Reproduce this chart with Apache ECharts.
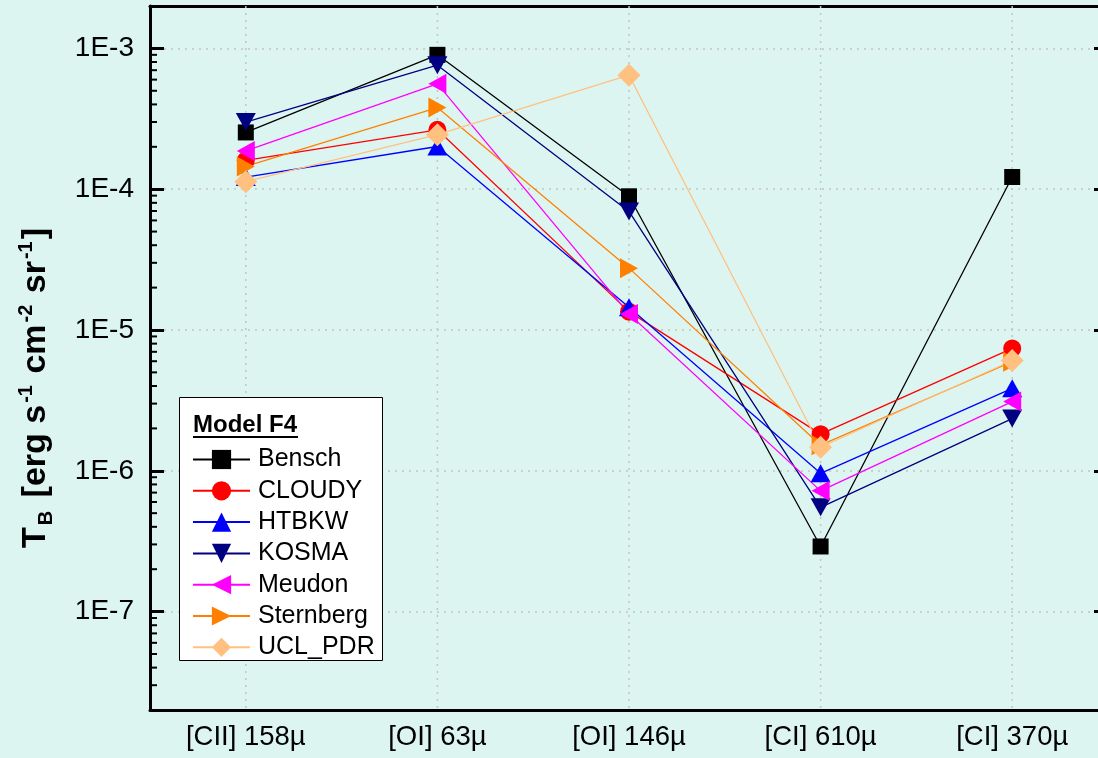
<!DOCTYPE html>
<html><head><meta charset="utf-8">
<script src="https://cdn.jsdelivr.net/npm/echarts@6/dist/echarts.min.js"></script>
<style>html,body{margin:0;padding:0;background:#ddf5f1;overflow:hidden}#c{width:1112px;height:758px}</style>
</head><body><div id="c"></div>
<script>
const categories = ['[CII] 158µ', '[OI] 63µ', '[OI] 146µ', '[CI] 610µ', '[CI] 370µ'];
const bensch    = [2.53e-4, 9.0e-4, 8.9e-5, 2.9e-7, 1.22e-4];
const cloudy    = [1.6e-4, 2.64e-4, 1.35e-5, 1.82e-6, 7.4e-6];
const htbkw     = [1.22e-4, 2.01e-4, 1.45e-5, 9.6e-7, 3.85e-6];
const kosma     = [3.0e-4, 7.6e-4, 6.95e-5, 5.5e-7, 2.35e-6];
const meudon    = [1.87e-4, 5.6e-4, 1.3e-5, 7.2e-7, 3.1e-6];
const sternberg = [1.45e-4, 3.8e-4, 2.75e-5, 1.52e-6, 5.95e-6];
const uclpdr    = [1.13e-4, 2.44e-4, 6.45e-4, 1.47e-6, 6.07e-6];
const yMin = 2e-8, yMax = 2e-3;

const FONT = '"Liberation Sans", Arial, sans-serif';
const seriesDefs = [
  {name: 'Bensch', data: bensch, color: '#000000', symbol: 'rect', size: 16, rotate: 0},
  {name: 'CLOUDY', data: cloudy, color: '#ff0000', symbol: 'circle', size: 18, rotate: 0},
  {name: 'HTBKW', data: htbkw, color: '#0000ff', symbol: 'triangle', size: [20, 18], rotate: 0},
  {name: 'KOSMA', data: kosma, color: '#000080', symbol: 'triangle', size: [20, 18], rotate: 180},
  {name: 'Meudon', data: meudon, color: '#ff00ff', symbol: 'triangle', size: [20, 18], rotate: 90},
  {name: 'Sternberg', data: sternberg, color: '#ff8000', symbol: 'triangle', size: [20, 18], rotate: -90},
  {name: 'UCL_PDR', data: uclpdr, color: '#ffc080', symbol: 'diamond', size: 23, rotate: 0}
];

// log minor tick positions (axis structure)
const minorVals = [];
for (let e = -8; e <= -3; e++) {
  for (let m = 2; m <= 9; m++) {
    const v = m * Math.pow(10, e);
    if (v > yMin * 1.0001 && v < yMax * 0.9999) minorVals.push(v);
  }
}

function logLabel(v) {
  const l = Math.log10(v);
  const e = Math.round(l);
  if (Math.abs(l - e) > 1e-6) return '';
  return '1E' + e;
}

const chart = echarts.init(document.getElementById('c'), null, {renderer: 'canvas'});

const series = [
  {
    type: 'custom', silent: true, z: 1, xAxisIndex: 0, yAxisIndex: 0,
    data: categories.map((c, i) => [i, 1e-5]),
    renderItem(params, api) {
      const cs = params.coordSys;
      const x = api.coord([api.value(0), 1e-5])[0];
      return {type: 'line', shape: {x1: x, y1: cs.y, x2: x, y2: cs.y + cs.height},
        style: {stroke: '#c4c4c4', lineWidth: 1.5, lineDash: [2, 5]}};
    }
  },
  {
    type: 'custom', silent: true, z: 3, xAxisIndex: 0, yAxisIndex: 0,
    data: minorVals.map(v => [0, v]),
    renderItem(params, api) {
      const cs = params.coordSys;
      const y = api.coord([0, api.value(1)])[1];
      return {type: 'line', shape: {x1: cs.x, y1: y, x2: cs.x + 7, y2: y},
        style: {stroke: '#000', lineWidth: 2}};
    }
  }
];
seriesDefs.forEach(d => {
  series.push({
    name: d.name, type: 'line', data: d.data,
    symbol: d.symbol, symbolSize: d.size, symbolRotate: d.rotate,
    showAllSymbol: true,
    lineStyle: {color: d.color, width: 1.3},
    itemStyle: {color: d.color, borderWidth: 0},
    emphasis: {disabled: true}
  });
});

chart.setOption({
  animation: false,
  backgroundColor: '#ddf5f1',
  grid: {left: 150, top: 6, width: 958, height: 704, containLabel: false},
  legend: {
    orient: 'vertical', left: 187, top: 442, z: 12,
    itemWidth: 57, itemHeight: 24, itemGap: 6.3,
    data: seriesDefs.map(d => d.name),
    textStyle: {fontSize: 25, color: '#000', fontFamily: FONT, padding: [0, 0, 0, 3]},
    selectedMode: false
  },
  xAxis: [
    {
      type: 'category', data: categories, boundaryGap: true, position: 'bottom',
      axisLine: {onZero: false, lineStyle: {color: '#000', width: 3}},
      axisTick: {alignWithLabel: true, inside: true, length: 14, lineStyle: {color: '#000', width: 2.5}},
      axisLabel: {fontSize: 27.5, color: '#000', margin: 13, interval: 0, fontFamily: FONT},
      splitLine: {show: false}
    },
    {
      type: 'category', data: categories, boundaryGap: true, position: 'top',
      axisLine: {onZero: false, lineStyle: {color: '#000', width: 3}},
      axisTick: {alignWithLabel: true, inside: true, length: 14, lineStyle: {color: '#000', width: 2.5}},
      axisLabel: {show: false},
      splitLine: {show: false}
    }
  ],
  yAxis: [
    {
      type: 'log', logBase: 10, min: yMin, max: yMax, position: 'left',
      axisLine: {show: true, onZero: false, lineStyle: {color: '#000', width: 3}},
      axisTick: {show: true, inside: true, length: 14, lineStyle: {color: '#000', width: 3}},
      axisLabel: {formatter: logLabel, fontSize: 28, color: '#000', margin: 16, fontFamily: FONT},
      splitLine: {show: true, lineStyle: {color: '#c4c4c4', width: 1.5, type: [2, 5]}}
    },
    {
      type: 'log', logBase: 10, min: yMin, max: yMax, position: 'right',
      axisLine: {show: true, onZero: false, lineStyle: {color: '#000', width: 3}},
      axisTick: {show: true, inside: true, length: 14, lineStyle: {color: '#000', width: 3}},
      axisLabel: {show: false},
      splitLine: {show: false}
    }
  ],
  graphic: [
    {type: 'rect', z: 10, shape: {x: 179.5, y: 397.5, width: 203, height: 263},
      style: {fill: '#ffffff', stroke: '#000', lineWidth: 1}},
    {type: 'text', z: 11, x: 193, y: 425,
      style: {text: 'Model F4', font: 'bold 24px ' + FONT, fill: '#000', align: 'left', verticalAlign: 'middle'}},
    {type: 'line', z: 11, shape: {x1: 193, y1: 437, x2: 298, y2: 437}, style: {stroke: '#000', lineWidth: 2}},
    {type: 'text', z: 5, x: 36, y: 388, rotation: Math.PI / 2,
      style: {
        text: '{m|T}{sub|B}{m| [erg s}{sup|-1}{m| cm}{sup|-2}{m| sr}{sup|-1}{m|]}',
        align: 'center', verticalAlign: 'middle',
        rich: {
          m: {font: 'bold 34px ' + FONT, fill: '#000', lineHeight: 40, verticalAlign: 'middle'},
          sup: {font: 'bold 20px ' + FONT, fill: '#000', lineHeight: 40, verticalAlign: 'top', padding: [0, 2, 0, 2]},
          sub: {font: 'bold 20px ' + FONT, fill: '#000', lineHeight: 40, verticalAlign: 'bottom', padding: [0, 4, 0, 2]}
        }
      }}
  ],
  series: series
});
</script>
</body></html>
